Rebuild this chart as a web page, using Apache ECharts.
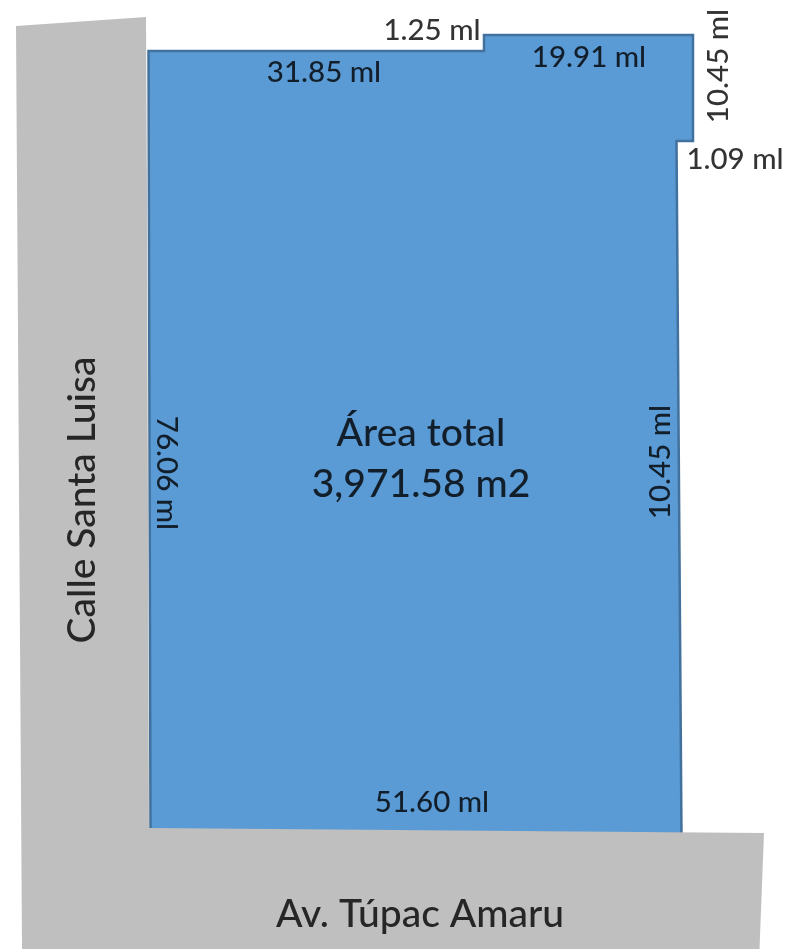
<!DOCTYPE html>
<html>
<head>
<meta charset="utf-8">
<style>html,body{margin:0;padding:0;background:#fff}#c{width:786px;height:949px}</style>
<script src="https://cdn.jsdelivr.net/npm/echarts@6/dist/echarts.min.js"></script>
</head>
<body>
<div id="c"></div>
<script>
const streetX = [16, 146, 147, 149, 764, 759.5, 22];
const streetY = [26, 17, 200, 828, 833, 949, 949];
const lotX = [148.5, 484, 484, 693, 693, 676.5, 681.5, 150.5];
const lotY = [51, 51, 35, 35, 141, 141, 834, 830];
const labelTexts = ['1.25 ml', '31.85 ml', '19.91 ml', '10.45 ml', '1.09 ml', '76.06 ml', '10.45 ml', 'Área total', '3,971.58 m2', 'Calle Santa Luisa', '51.60 ml', 'Av. Túpac Amaru'];
const labelX = [432, 324, 589, 718, 735, 167, 660, 421, 421, 82, 432, 420];
const labelY = [30, 72, 57, 66, 159, 473, 462, 433, 484, 500, 802, 914];
const labelAngle = [0, 0, 0, 90, 0, -90, 90, 0, 0, 90, 0, 0];
const labelSize = [29.5, 29.5, 29.5, 29.5, 29.5, 29.5, 29.5, 39, 39, 39, 29.5, 39];

const zip = (a, b) => a.map((v, i) => [v, b[i]]);
function polySeries(xs, ys, fill, stroke, width, z) {
  const data = zip(xs, ys);
  return {
    type: 'custom', coordinateSystem: 'cartesian2d', z, silent: true, clip: false,
    data,
    encode: {x: 0, y: 1},
    renderItem(params, api) {
      if (params.dataIndex !== 0) return null;
      return {
        type: 'polygon',
        shape: {points: data.map(p => api.coord(p))},
        style: {fill, stroke, lineWidth: width}
      };
    }
  };
}
const chart = echarts.init(document.getElementById('c'), null, {renderer: 'canvas'});
chart.setOption({
  animation: false,
  backgroundColor: '#ffffff',
  grid: {left: 0, right: 0, top: 0, bottom: 0},
  xAxis: {type: 'value', min: 0, max: 786, show: false},
  yAxis: {type: 'value', min: 0, max: 949, inverse: true, show: false},
  series: [
    polySeries(lotX, lotY, '#5b9bd5', '#41719c', 2.5, 1),
    polySeries(streetX, streetY, '#bfbfbf', null, 0, 2),
    {
      type: 'scatter', z: 3, silent: true, symbolSize: 0,
      data: labelTexts.map((t, i) => ({
        value: [labelX[i], labelY[i]],
        label: {
          show: true, position: 'inside', formatter: t,
          rotate: labelAngle[i], fontSize: labelSize[i], fontWeight: 500,
          fontFamily: 'Lato', color: '#000000', align: 'center', verticalAlign: 'middle'
        }
      }))
    }
  ]
});
</script>
</body>
</html>
